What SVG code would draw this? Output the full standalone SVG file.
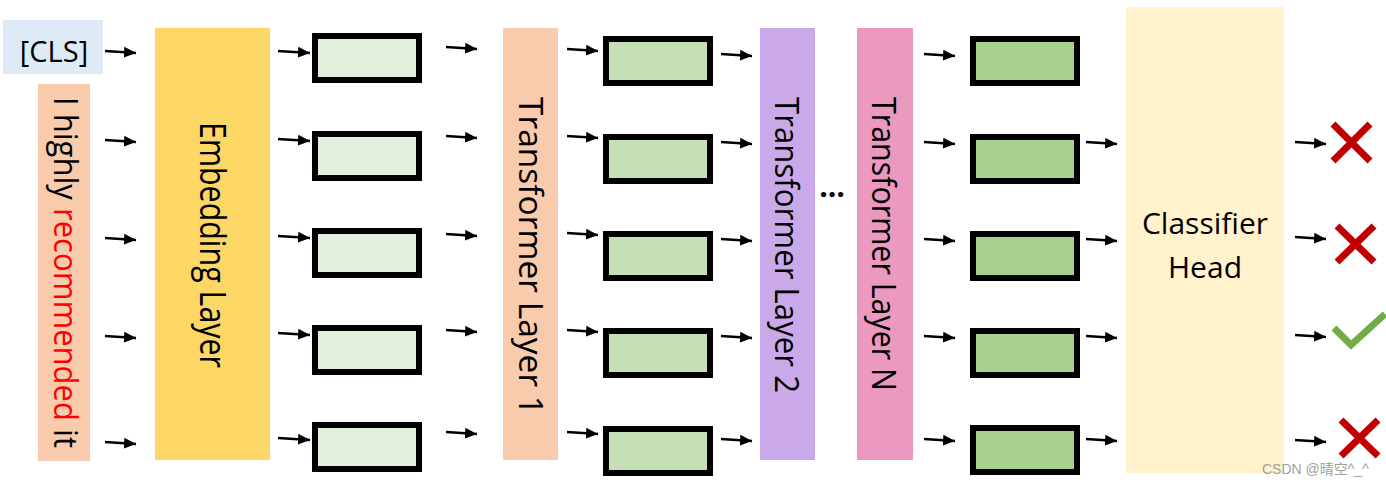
<svg xmlns="http://www.w3.org/2000/svg" width="1386" height="486" viewBox="0 0 1386 486">
<style>
.t{font-family:"Open Sans","Liberation Sans",sans-serif;fill:#000}
.box1{fill:#e2efda;stroke:#000;stroke-width:6}
.box2{fill:#c5e0b4;stroke:#000;stroke-width:6}
.box3{fill:#a9d18e;stroke:#000;stroke-width:6}
.arr{stroke:#000;stroke-width:2.6;fill:none;marker-end:url(#ah)}
.x{stroke:#c00000;stroke-width:7;fill:none}
</style>
<defs>
<marker id="ah" markerUnits="userSpaceOnUse" markerWidth="13" markerHeight="12" refX="12" refY="5.5" orient="auto" viewBox="0 0 13 11">
<path d="M0,0 L12,5.5 L0,11 Z" fill="#000"/>
</marker>
</defs>
<rect width="1386" height="486" fill="#fff"/>

<g id="cls">
<rect x="3" y="20" width="100" height="54" fill="#deebf7"/>
<text class="t" x="54" y="62" font-size="29" text-anchor="middle">[CLS]</text>
</g>
<g id="input">
<rect x="38" y="84" width="52" height="377" fill="#f8cbad"/>
<text class="t" font-size="32" transform="translate(54,97) rotate(90)" textLength="351" lengthAdjust="spacingAndGlyphs">I highly <tspan fill="#ff0000">recommended</tspan> it</text>
</g>
<g id="embedding">
<rect x="155" y="28" width="115" height="432" fill="#fdd766"/>
<text class="t" font-size="36" transform="translate(200,122) rotate(90)" textLength="246" lengthAdjust="spacingAndGlyphs">Embedding Layer</text>
</g>
<g id="emb-out">
<rect class="box1" x="315" y="36" width="104" height="44"/>
<rect class="box1" x="315" y="134" width="104" height="44"/>
<rect class="box1" x="315" y="231" width="104" height="44"/>
<rect class="box1" x="315" y="328" width="104" height="44"/>
<rect class="box1" x="315" y="425" width="104" height="44"/>
</g>
<g id="transformer1">
<rect x="503" y="28" width="55" height="432" fill="#f8cbad"/>
<text class="t" font-size="32" transform="translate(519,97) rotate(90)" textLength="318" lengthAdjust="spacingAndGlyphs">Transformer Layer 1</text>
</g>
<g id="t1-out">
<rect class="box2" x="606" y="39" width="104" height="44"/>
<rect class="box2" x="606" y="137" width="104" height="44"/>
<rect class="box2" x="606" y="234" width="104" height="44"/>
<rect class="box2" x="606" y="331" width="104" height="44"/>
<rect class="box2" x="606" y="429" width="104" height="44"/>
</g>
<g id="transformer2">
<rect x="760" y="28" width="55" height="432" fill="#c9a9e9"/>
<text class="t" font-size="32" transform="translate(775,97) rotate(90)" textLength="296" lengthAdjust="spacingAndGlyphs">Transformer Layer 2</text>
</g>
<g id="ellipsis">
<text class="t" x="832" y="197" font-size="30" font-weight="bold" text-anchor="middle">…</text>
</g>
<g id="transformerN">
<rect x="857" y="28" width="56" height="432" fill="#eb99bf"/>
<text class="t" font-size="32" transform="translate(872,97) rotate(90)" textLength="294" lengthAdjust="spacingAndGlyphs">Transformer Layer N</text>
</g>
<g id="tN-out">
<rect class="box3" x="973" y="39" width="104" height="44"/>
<rect class="box3" x="973" y="137" width="104" height="44"/>
<rect class="box3" x="973" y="234" width="104" height="44"/>
<rect class="box3" x="973" y="331" width="104" height="44"/>
<rect class="box3" x="973" y="428" width="104" height="44"/>
</g>
<g id="classifier">
<rect x="1126" y="7" width="158" height="466" fill="#fff2cc"/>
<text class="t" x="1205" y="234" font-size="30" text-anchor="middle">Classifier</text>
<text class="t" x="1205" y="278" font-size="30" text-anchor="middle">Head</text>
</g>
<g id="outputs">
<path class="x" d="M1333,124 L1370,161 M1370,124 L1333,161"/>
<path class="x" d="M1337,226 L1374,262 M1374,226 L1337,262"/>
<path d="M1334,328 L1351,345 L1385,314" stroke="#70ad47" stroke-width="7" fill="none"/>
<path class="x" d="M1341,420 L1378,456 M1378,420 L1341,456"/>
</g>
<g id="connectors">
<line class="arr" x1="105" y1="51" x2="136" y2="53"/>
<line class="arr" x1="105" y1="140" x2="136" y2="142"/>
<line class="arr" x1="105" y1="238" x2="136" y2="240"/>
<line class="arr" x1="105" y1="336" x2="136" y2="338"/>
<line class="arr" x1="105" y1="442" x2="136" y2="444"/>

<line class="arr" x1="278" y1="51" x2="310" y2="53"/>
<line class="arr" x1="278" y1="139" x2="310" y2="141"/>
<line class="arr" x1="278" y1="236" x2="310" y2="238"/>
<line class="arr" x1="278" y1="333" x2="310" y2="335"/>
<line class="arr" x1="278" y1="438" x2="310" y2="440"/>

<line class="arr" x1="446" y1="47" x2="477" y2="49"/>
<line class="arr" x1="446" y1="136" x2="477" y2="138"/>
<line class="arr" x1="446" y1="234" x2="477" y2="236"/>
<line class="arr" x1="446" y1="330" x2="477" y2="332"/>
<line class="arr" x1="446" y1="432" x2="477" y2="434"/>

<line class="arr" x1="567" y1="49" x2="598" y2="51"/>
<line class="arr" x1="567" y1="136" x2="598" y2="138"/>
<line class="arr" x1="567" y1="233" x2="598" y2="235"/>
<line class="arr" x1="567" y1="330" x2="598" y2="332"/>
<line class="arr" x1="567" y1="432" x2="598" y2="434"/>

<line class="arr" x1="721" y1="54" x2="752" y2="56"/>
<line class="arr" x1="721" y1="142" x2="752" y2="144"/>
<line class="arr" x1="721" y1="239" x2="752" y2="241"/>
<line class="arr" x1="721" y1="336" x2="752" y2="338"/>
<line class="arr" x1="721" y1="439" x2="752" y2="441"/>

<line class="arr" x1="924" y1="54" x2="955" y2="56"/>
<line class="arr" x1="924" y1="142" x2="955" y2="144"/>
<line class="arr" x1="924" y1="239" x2="955" y2="241"/>
<line class="arr" x1="924" y1="336" x2="955" y2="338"/>
<line class="arr" x1="924" y1="439" x2="955" y2="441"/>

<line class="arr" x1="1086" y1="142" x2="1117" y2="144"/>
<line class="arr" x1="1086" y1="239" x2="1117" y2="241"/>
<line class="arr" x1="1086" y1="336" x2="1117" y2="338"/>
<line class="arr" x1="1086" y1="439" x2="1117" y2="441"/>

<line class="arr" x1="1295" y1="142" x2="1326" y2="144"/>
<line class="arr" x1="1295" y1="237" x2="1326" y2="239"/>
<line class="arr" x1="1295" y1="335" x2="1326" y2="337"/>
<line class="arr" x1="1295" y1="440" x2="1326" y2="442"/>
</g>
<text x="1262" y="474" font-family="'Liberation Sans','Noto Sans CJK SC',sans-serif" font-size="14" fill="#a0a0a0">CSDN @晴空^_^</text>
</svg>
